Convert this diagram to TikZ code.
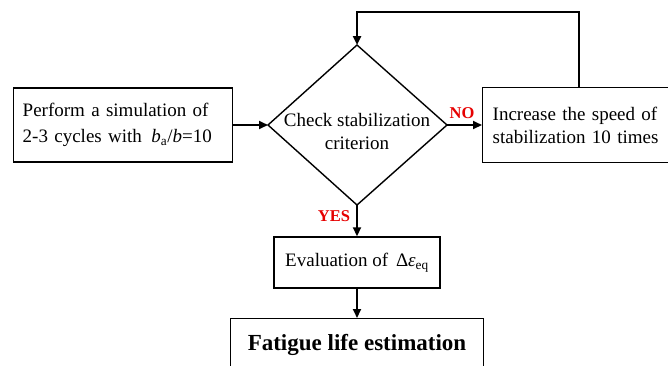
\documentclass[tikz,border=0pt]{standalone}
\usepackage{fontspec}
\setmainfont{Liberation Serif}
\usetikzlibrary{arrows.meta,positioning,calc}
\definecolor{labelred}{RGB}{230,0,0}
\tikzset{
  box/.style={draw=black,line width=1.4pt,rectangle,align=center,inner sep=0pt},
  flow/.style={line width=1.8pt,-{Triangle[length=9pt,width=8pt]}},
  answer/.style={text=labelred,font=\fontsize{16.5}{18}\selectfont\bfseries}
}
\begin{document}
\begin{tikzpicture}[x=1pt,y=-1pt]
\useasboundingbox (0,0) rectangle (668,365);
% boxes
\node[box,anchor=west,minimum width=219pt,minimum height=74pt,text width=201pt,align=left,inner xsep=9pt,font=\fontsize{19}{26}\selectfont] (sim) at (13,125) {Perform a simulation of\\2-3 cycles with\, \textit{b}\textsubscript{a}/\textit{b}=10};
\node[box,anchor=west,minimum width=208pt,minimum height=75pt,text width=188pt,align=left,inner xsep=10pt,font=\fontsize{19}{23}\selectfont] (inc) at (482,125) {Increase the speed of\\stabilization 10 times};
\node[box,minimum width=166pt,minimum height=51pt,font=\fontsize{19}{23}\selectfont] (eval) at (357,262.5) {Evaluation of\, Δ\textit{ε}\textsubscript{eq}};
\node[box,anchor=north,minimum width=253pt,minimum height=52pt,font=\fontsize{23}{26}\selectfont\bfseries] (fat) at (357,318) {Fatigue life estimation};
% decision
\coordinate (dt) at (357,45);
\coordinate (dl) at (268,125);
\coordinate (dr) at (447,125);
\coordinate (db) at (357,205);
\draw[line width=1.4pt,line join=miter] (dt) -- (dr) -- (db) -- (dl) -- cycle;
\node[align=center,font=\fontsize{19}{23}\selectfont] (check) at (357,131) {Check stabilization\\criterion};
% connectors
\draw[flow] (sim.east) -- (dl);
\draw[flow] (dr) -- (inc.west);
\draw[flow] (db) -- (eval.north);
\draw[flow] (eval.south) -- (fat.north);
\coordinate (back) at (579,12);
\draw[flow,line width=2.4pt] (back |- inc.north) -- (back) -| (dt);
\node[answer] (no) at (462,113) {NO};
\node[answer] (yes) at (334,216) {YES};
\end{tikzpicture}
\end{document}
